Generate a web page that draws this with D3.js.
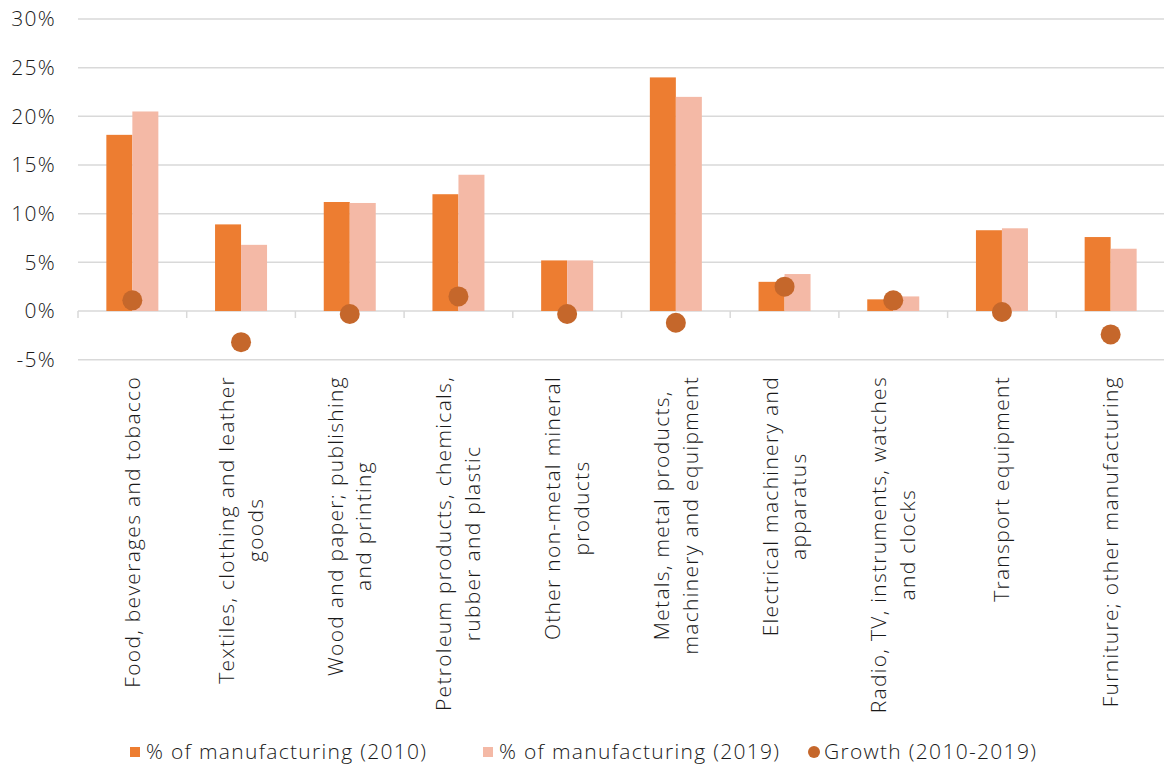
<!DOCTYPE html>
<html>
<head>
<meta charset="utf-8">
<script src="https://cdn.jsdelivr.net/npm/d3@7/dist/d3.min.js"></script>
<style>
  html, body { margin: 0; padding: 0; background: #fff; }
  svg { display: block; font-family: "Open Sans", "Noto Sans", sans-serif; }
  text { letter-spacing: 1.3px; }
</style>
</head>
<body>
<svg id="chart" width="1164" height="767"></svg>
<script>
const categories = [
  ["Food, beverages and tobacco"],
  ["Textiles, clothing and leather", "goods"],
  ["Wood and paper; publishing", "and printing"],
  ["Petroleum products, chemicals,", "rubber and plastic"],
  ["Other non-metal mineral", "products"],
  ["Metals, metal products,", "machinery and equipment"],
  ["Electrical machinery and", "apparatus"],
  ["Radio, TV, instruments, watches", "and clocks"],
  ["Transport equipment"],
  ["Furniture; other manufacturing"]
];
const share2010 = [18.1, 8.9, 11.2, 12.0, 5.2, 24.0, 3.0, 1.2, 8.3, 7.6];
const share2019 = [20.5, 6.8, 11.1, 14.0, 5.2, 22.0, 3.8, 1.5, 8.5, 6.4];
const growth    = [1.1, -3.2, -0.3, 1.5, -0.3, -1.2, 2.5, 1.1, -0.1, -2.4];
const yTicks = [-5, 0, 5, 10, 15, 20, 25, 30];
const seriesNames = ["% of manufacturing (2010)", "% of manufacturing (2019)", "Growth (2010-2019)"];

const C2010 = "#ED7D31", C2019 = "#F4B9A6", CGROW = "#C5672B", GRID = "#D9D9D9", TXT = "#1a1a1a";
const FS = 21, FW = 300;

const svg = d3.select("#chart");
const plotLeft = 78, plotRight = 1165, plotTop = 19, plotBottom = 359.7;

const y = d3.scaleLinear().domain([-5, 30]).range([plotBottom, plotTop]);
const x = d3.scaleBand().domain(d3.range(categories.length)).range([plotLeft, plotRight]).paddingInner(0).paddingOuter(0);
const groupW = 52;
const x1 = d3.scaleBand().domain([0, 1]).range([0, groupW]).padding(0);
const off = (x.bandwidth() - groupW) / 2;

// gridlines
svg.append("g").selectAll("line").data(yTicks).join("line")
  .attr("x1", plotLeft).attr("x2", plotRight)
  .attr("y1", d => y(d)).attr("y2", d => y(d))
  .attr("stroke", GRID).attr("stroke-width", 1.5);

// y labels
svg.append("g").selectAll("text").data(yTicks).join("text")
  .attr("x", 56).attr("y", d => y(d))
  .attr("dy", "0.35em")
  .attr("text-anchor", "end")
  .attr("font-size", FS).attr("font-weight", FW)
  .attr("fill", TXT)
  .text(d => d + "%");

// category tick marks at 0
const bounds = d3.range(categories.length + 1).map(i => plotLeft + i * x.bandwidth());
svg.append("g").selectAll("line").data(bounds).join("line")
  .attr("x1", d => d).attr("x2", d => d)
  .attr("y1", y(0)).attr("y2", y(0) + 7)
  .attr("stroke", GRID).attr("stroke-width", 1.5);

// bars
const bars = svg.append("g");
bars.selectAll("rect.a").data(share2010).join("rect").attr("class", "a")
  .attr("x", (d, i) => x(i) + off + x1(0))
  .attr("width", x1.bandwidth())
  .attr("y", d => y(Math.max(0, d)))
  .attr("height", d => Math.abs(y(d) - y(0)))
  .attr("fill", C2010);
bars.selectAll("rect.b").data(share2019).join("rect").attr("class", "b")
  .attr("x", (d, i) => x(i) + off + x1(1))
  .attr("width", x1.bandwidth())
  .attr("y", d => y(Math.max(0, d)))
  .attr("height", d => Math.abs(y(d) - y(0)))
  .attr("fill", C2019);

// growth dots
svg.append("g").selectAll("circle").data(growth).join("circle")
  .attr("cx", (d, i) => x(i) + x.bandwidth() / 2)
  .attr("cy", d => y(d))
  .attr("r", 10)
  .attr("fill", CGROW);

// category labels: block top-aligned at y=376, lines centred on each other
const lineGap = 28.7, labelTop = 376;
const lab = svg.append("g").selectAll("g").data(categories).join("g")
  .attr("transform", (d, i) => `translate(${x(i) + x.bandwidth() / 2},0)`);
lab.each(function(lines) {
  const g = d3.select(this);
  const texts = lines.map((t, j) => {
    const dx = (j - (lines.length - 1) / 2) * lineGap;
    return g.append("text")
      .attr("text-anchor", "middle")
      .attr("dy", "0.35em")
      .attr("font-size", FS).attr("font-weight", FW)
      .attr("fill", TXT)
      .attr("data-dx", dx)
      .text(t);
  });
  const maxLen = d3.max(texts, t => t.node().getComputedTextLength());
  texts.forEach(t => {
    const dx = +t.attr("data-dx");
    t.attr("transform", `translate(${dx},${labelTop + maxLen / 2}) rotate(-90)`);
  });
});

// legend
const legendX = [130, 483, 808];
const lg = svg.append("g").selectAll("g").data(seriesNames).join("g")
  .attr("transform", (d, i) => `translate(${legendX[i]},752)`);
lg.each(function(d, i) {
  const g = d3.select(this);
  if (i < 2) {
    g.append("rect").attr("x", 0).attr("y", -5).attr("width", 10).attr("height", 10)
      .attr("fill", i === 0 ? C2010 : C2019);
  } else {
    g.append("circle").attr("cx", 6).attr("cy", 0).attr("r", 6).attr("fill", CGROW);
  }
  g.append("text").attr("x", 16).attr("dy", "0.35em")
    .attr("font-size", FS).attr("font-weight", FW).attr("fill", TXT).text(d);
});
</script>
</body>
</html>
